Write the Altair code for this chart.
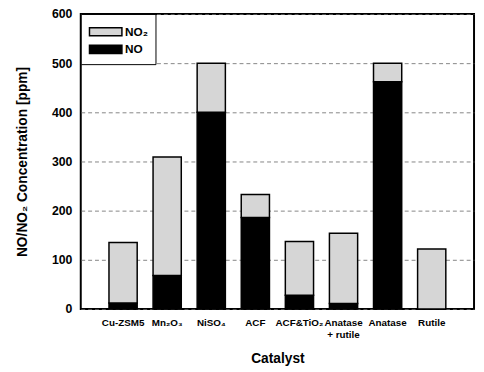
import altair as alt
import pandas as pd

catalysts = ["Cu-ZSM5", "Mn₂O₃", "NiSO₄", "ACF", "ACF&TiO₂", "Anatase + rutile", "Anatase", "Rutile"]
no_vals = [12, 68, 400, 186, 28, 11, 462, 0]
no2_vals = [123, 241, 100, 47, 109, 143, 38, 122]
species = ["NO₂", "NO"]
y_ticks = [0, 100, 200, 300, 400, 500, 600]

rows = []
for c, a, b in zip(catalysts, no_vals, no2_vals):
    rows.append({"Catalyst": c, "Species": "NO", "Value": a, "ord": 0})
    rows.append({"Catalyst": c, "Species": "NO₂", "Value": b, "ord": 1})
df = pd.DataFrame(rows)

FONT = "Liberation Sans"

legend = alt.Legend(
    orient="none", legendX=0, legendY=0, title=" ", titleFontSize=5, titlePadding=0,
    padding=7, strokeColor="black", fillColor="white",
    symbolType="M-1,-1L7,-1L7,1L-1,1Z", symbolSize=68, symbolStrokeColor="black",
    symbolStrokeWidth=1.5, symbolOpacity=1,
    labelOffset=26, labelFont=FONT, labelFontSize=12, labelFontWeight="bold", labelColor="black",
    rowPadding=2,
)

chart = alt.Chart(df).mark_bar(stroke="black", strokeWidth=1.5).encode(
    x=alt.X("Catalyst:N", sort=catalysts,
            scale=alt.Scale(paddingInner=0.36, paddingOuter=0.64),
            axis=alt.Axis(title="Catalyst", labelAngle=0, ticks=False, domain=False,
                          labelOverlap=False, labelLimit=0, labelPadding=9,
                          labelFont=FONT, labelFontSize=10, labelFontWeight="bold",
                          labelColor="black", labelLineHeight=12,
                          titleFont=FONT, titleFontSize=14,
                          titleFontWeight="bold", titleColor="black",
                          titleX=200, titleY=50, titleBaseline="middle", titleAlign="center",
                          labelExpr="datum.value == 'Anatase + rutile' ? ['Anatase', '+ rutile'] : datum.value")),
    y=alt.Y("Value:Q", stack="zero", scale=alt.Scale(domain=[0, 600], nice=False),
            axis=alt.Axis(title="NO/NO₂ Concentration [ppm]", values=y_ticks, ticks=False,
                          domain=False, labelPadding=9, labelFont=FONT, labelFontSize=12.5,
                          labelFontWeight="bold", labelColor="black", titleFont=FONT,
                          titleFontSize=14, titleFontWeight="bold", titleColor="black",
                          titleX=-59, titleY=150, titleBaseline="middle", titleAlign="center",
                          titleAngle=270,
                          grid=True, gridColor="#666666",
                          gridDash=[4, 3], gridWidth=0.8)),
    color=alt.Color("Species:N", scale=alt.Scale(domain=species, range=["#d6d6d6", "black"]),
                    legend=legend),
    order=alt.Order("ord:Q"),
).properties(
    width=400, height=300,
    autosize=alt.AutoSizeParams(type="none"),
    padding={"left": 74, "top": 3, "right": 2, "bottom": 60},
).configure_view(stroke="black", strokeWidth=2)

chart.save("out.html", embed_options={"renderer": "svg", "actions": False})
